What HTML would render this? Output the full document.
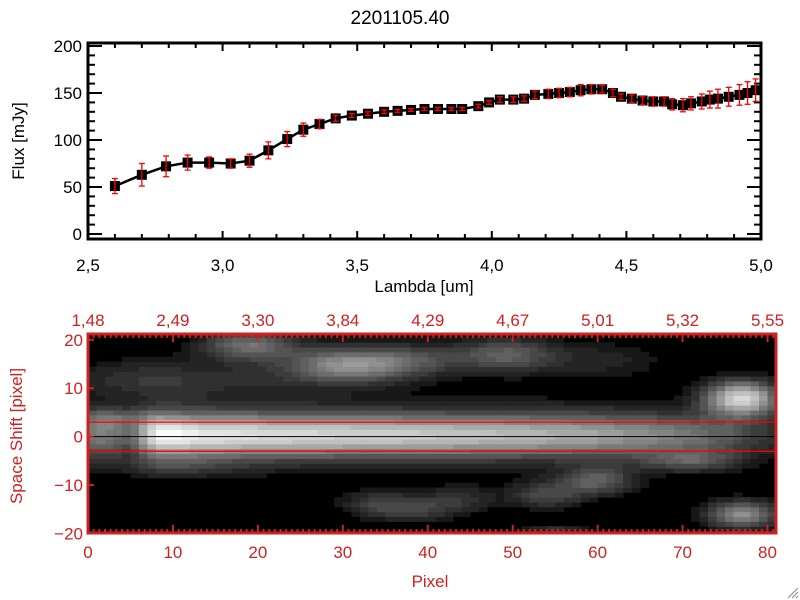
<!DOCTYPE html>
<html><head><meta charset="utf-8">
<style>
html,body{margin:0;padding:0;background:#fff;}
svg{display:block;font-family:"Liberation Sans",sans-serif;}
</style></head>
<body>
<svg id="c" width="800" height="600" viewBox="0 0 800 600">
<rect width="800" height="600" fill="#fff"/>
<text x="400" y="24" font-size="19" text-anchor="middle">2201105.40</text>
<g id="topPlot"></g>
<g id="botPlot"></g>
<text x="430" y="587" font-size="17" fill="#cc2222" text-anchor="middle">Pixel</text>
<text transform="translate(22,436) rotate(-90)" font-size="17" fill="#cc2222" text-anchor="middle">Space Shift [pixel]</text>
<text x="424" y="292" font-size="17" text-anchor="middle">Lambda [um]</text>
<text transform="translate(24,141) rotate(-90)" font-size="17" text-anchor="middle">Flux [mJy]</text>
<g stroke="#888" stroke-width="1"><line x1="788" y1="598" x2="798" y2="588"/><line x1="792" y1="598" x2="798" y2="592"/><line x1="796" y1="598" x2="798" y2="596"/></g>
</svg>
<script>
const lambda=[2.60,2.70,2.79,2.87,2.95,3.03,3.10,3.17,3.24,3.30,3.36,3.42,3.48,3.54,3.60,3.65,3.70,3.75,3.80,3.85,3.89,3.95,3.99,4.03,4.08,4.12,4.16,4.21,4.25,4.29,4.33,4.37,4.41,4.45,4.48,4.52,4.56,4.60,4.64,4.67,4.71,4.74,4.78,4.81,4.84,4.88,4.92,4.95,4.98];
const flux=[51,63,72,76,76,75,78,89,101,111,117,123,126,128,130,131,132,133,133,133,133,136,140,143,143,144,148,149,150,151,153,154,154,150,146,144,142,141,141,138,137,139,141,143,144,146,148,150,153];
const fluxErr=[8,12,11,8,6,5,7,9,8,7,5,3,2,2,2,1.5,1.5,1.5,1.5,1.5,1.5,2,2,3,3,3,4,5,5,5,6,5,4,4,3,4,4,5,5,6,7,7,8,9,10,10,11,12,12];
const xTicksTop=[2.5,3.0,3.5,4.0,4.5,5.0];
const xTickLabelsTop=["2,5","3,0","3,5","4,0","4,5","5,0"];
const yTicksTop=[0,50,100,150,200];
const pixTicks=[0,10,20,30,40,50,60,70,80];
const lambdaTickLabels=["1,48","2,49","3,30","3,84","4,29","4,67","5,01","5,32","5,55"];
const shiftTicks=[-20,-10,0,10,20];
const bandPeak=[120,125,120,110,100,120,170,220,250,255,250,245,240,235,232,230,228,226,225,224,222,220,218,217,216,215,214,213,212,211,210,208,207,206,205,205,204,203,202,201,200,198,196,195,194,192,190,190,188,186,185,183,180,178,176,175,172,170,168,165,162,160,155,150,148,145,140,135,130,125,120,115,110,100,95,90,80,70,60,55,50];
const blobX=[19,31,6,49,39,77,77,34,54,60,39,55,71,3,44,20,60,10];
const blobY=[19,15,12,17,16,8,-16,-14,-12,-9,-15,-20,-5,4,-13,12,16,-6];
const blobSX=[4,5,6,4,4,3,3,3,3,3,3,3,4,3,3,8,6,6];
const blobSY=[2.2,2.5,3,2.5,2.5,2.5,2,2,2,2,2,1.3,1.5,1.5,2,3,3,1.5];
const blobAmp=[110,140,45,90,55,210,140,60,70,90,50,60,70,55,45,30,35,35];

const NS="http://www.w3.org/2000/svg";
function mk(parent,tag,attrs){const e=document.createElementNS(NS,tag);for(const k in attrs)e.setAttribute(k,attrs[k]);parent.appendChild(e);return e;}

const topG=document.getElementById('topPlot');
const TL=88,TR=761,TT=43,TB=239;
const X0=2.5,X1=5.0,Y0=-5.3,Y1=203.2;
const sx=v=>TL+(v-X0)/(X1-X0)*(TR-TL);
const sy=v=>TB-(v-Y0)/(Y1-Y0)*(TB-TT);
for(let v=2.5;v<=5.0001;v+=0.1){const x=sx(v);const maj=Math.abs(v*2-Math.round(v*2))<1e-6;const L=maj?8:5;
 let t=mk(topG,'line',{x1:x,y1:TB,x2:x,y2:TB-L,stroke:'#000','stroke-width':2});
 
 t=mk(topG,'line',{x1:x,y1:TT,x2:x,y2:TT+L,stroke:'#000','stroke-width':2});
 }
for(let v=0;v<=200;v+=10){const y=sy(v);const maj=v%50===0;const L=maj?14:7;
 let t=mk(topG,'line',{x1:TL,y1:y,x2:TL+L,y2:y,stroke:'#000','stroke-width':2});
 
 t=mk(topG,'line',{x1:TR,y1:y,x2:TR-L,y2:y,stroke:'#000','stroke-width':2});
 }
xTicksTop.forEach((v,i)=>{const t=mk(topG,'text',{x:sx(v),y:TB+32,'font-size':17,'text-anchor':'middle'});t.textContent=xTickLabelsTop[i];
 });
yTicksTop.forEach(v=>{const t=mk(topG,'text',{x:TL-6,y:sy(v)+6,'font-size':17,'text-anchor':'end'});t.textContent=String(v);
 });
let fr=mk(topG,'rect',{x:TL,y:TT,width:TR-TL,height:TB-TT,fill:'none',stroke:'#000','stroke-width':3});

let pl=mk(topG,'polyline',{points:lambda.map((v,i)=>sx(v)+','+sy(flux[i])).join(' '),fill:'none',stroke:'#000','stroke-width':2.5});

lambda.forEach((v,i)=>{const m=mk(topG,'rect',{x:sx(v)-5,y:sy(flux[i])-5,width:10,height:10,fill:'#000'});
 });
lambda.forEach((v,i)=>{const x=sx(v),ya=sy(flux[i]+fluxErr[i]),yb=sy(flux[i]-fluxErr[i]);
 const g=mk(topG,'g',{stroke:'#ff0000','stroke-width':1.3});
 
 mk(g,'line',{x1:x,y1:ya,x2:x,y2:yb});mk(g,'line',{x1:x-3,y1:ya,x2:x+3,y2:ya});mk(g,'line',{x1:x-3,y1:yb,x2:x+3,y2:yb});});

const botG=document.getElementById('botPlot');
const BL=88,BR=776,BT=334,BB=533;
const PX0=0,PX1=81,SY0=-19.9,SY1=21.2;
const bx=v=>BL+(v-PX0)/(PX1-PX0)*(BR-BL);
const by=v=>BB-(v-SY0)/(SY1-SY0)*(BB-BT);
const RED='#cc2222';
mk(botG,'rect',{x:BL,y:BT,width:BR-BL,height:BB-BT,fill:'#000'});
for(let c=0;c<81;c++){
 for(let r=-20;r<=21;r++){
  const dy=r-0.4;
  let v=bandPeak[c]*(0.85*Math.exp(-dy*dy/(2*3.1*3.1))+0.15*Math.exp(-dy*dy/(2*6*6)));
  for(let k=0;k<blobX.length;k++){const ddx=(c+0.5-blobX[k])/blobSX[k],ddy=(r-blobY[k])/blobSY[k];v+=blobAmp[k]*Math.exp(-(ddx*ddx+ddy*ddy)/2);}
  if(v<20)continue;
  v=Math.min(255,Math.round(v/12)*12);
  const y1=Math.max(BT,by(r+0.5)),y2=Math.min(BB,by(r-0.5));
  if(y2<=y1)continue;
  const cell=mk(botG,'rect',{x:bx(c),y:y1,width:bx(c+1)-bx(c)+0.5,height:y2-y1+0.5,fill:`rgb(${v},${v},${v})`});
  
  
 }
}
let ln=mk(botG,'line',{x1:BL,y1:by(0),x2:BR,y2:by(0),stroke:'#000','stroke-width':1});

[3,-3].forEach(v=>{const l=mk(botG,'line',{x1:BL,y1:by(v),x2:BR,y2:by(v),stroke:'#ff0000','stroke-width':1.3});
 });
for(let v=0;v<=81;v+=10/15){const x=bx(v);const maj=Math.abs(v/10-Math.round(v/10))<1e-6;const L=maj?8:4;
 let t=mk(botG,'line',{x1:x,y1:BB,x2:x,y2:BB-L,stroke:RED,'stroke-width':2});
 
 t=mk(botG,'line',{x1:x,y1:BT,x2:x,y2:BT+L,stroke:RED,'stroke-width':2});
 }
shiftTicks.forEach(v=>{const t=mk(botG,'line',{x1:BL,y1:by(v),x2:BL+6,y2:by(v),stroke:RED,'stroke-width':2});
 
 const tl=mk(botG,'text',{x:BL-5,y:by(v)+6,'font-size':17,fill:RED,'text-anchor':'end'});tl.textContent=v<0?'\u2212'+(-v):String(v);
 });
pixTicks.forEach((v,i)=>{const t=mk(botG,'text',{x:bx(v),y:BB+25,'font-size':17,fill:RED,'text-anchor':'middle'});t.textContent=String(v);
 
 const u=mk(botG,'text',{x:bx(v),y:BT-8,'font-size':17,fill:RED,'text-anchor':'middle'});u.textContent=lambdaTickLabels[i];
 });
fr=mk(botG,'rect',{x:BL,y:BT,width:BR-BL,height:BB-BT,fill:'none',stroke:RED,'stroke-width':3});

</script>
</body></html>
